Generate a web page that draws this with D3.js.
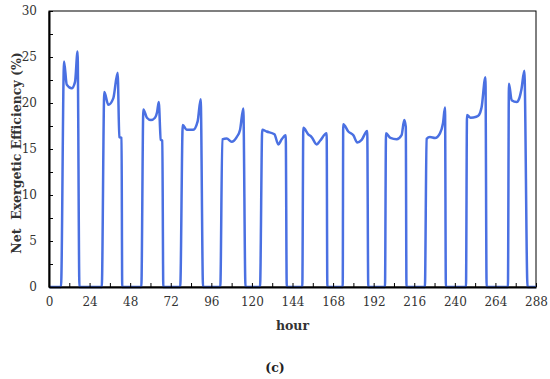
<!DOCTYPE html>
<html>
<head>
<meta charset="utf-8">
<script src="https://cdn.jsdelivr.net/npm/d3@7"></script>
<style>
  body { margin: 0; background: #fff; }
</style>
</head>
<body>
<svg width="550" height="379"></svg>
<script>
// vertices of the efficiency curve (hour, %)
var hours = [0,
  7.1, 8.9, 10.5, 13.4, 15.4, 16.9, 18.0,
  31.2, 32.7, 35.1, 38.0, 40.6, 41.6, 42.9, 43.3,
  54.6, 55.8, 57.9, 60.3, 62.7, 63.9, 64.9, 66.1, 67.0, 67.6,
  77.6, 79.1, 81.4, 85.3, 87.9, 89.7, 91.1,
  101.3, 102.5, 105.1, 108.0, 111.0, 113.0, 114.9, 116.2,
  124.8, 126.1, 128.7, 133.3, 135.6, 137.6, 140.0, 140.6,
  149.8, 150.4, 153.3, 155.3, 158.3, 160.3, 164.2, 164.6,
  173.7, 174.0, 177.0, 180.0, 182.3, 184.9, 188.2, 188.8,
  198.7, 199.3, 201.9, 205.6, 208.5, 210.1, 211.0, 211.4,
  222.3, 223.3, 225.3, 228.3, 231.2, 233.0, 234.2, 234.7,
  246.6, 247.2, 249.3, 252.7, 254.3, 255.8, 258.1, 258.8,
  271.4, 272.0, 273.6, 276.6, 277.9, 279.4, 281.1, 283.0,
  288];
var efficiency = [0,
  0, 24.5, 22.0, 21.6, 22.3, 25.6, 0,
  0, 21.2, 19.8, 20.5, 23.3, 16.3, 16.2, 0,
  0, 19.3, 18.4, 18.15, 18.4, 19.0, 20.1, 16.0, 15.9, 0,
  0, 17.6, 17.1, 17.1, 18.0, 20.4, 0,
  0, 16.05, 16.15, 15.8, 16.3, 17.1, 19.4, 0,
  0, 17.1, 16.9, 16.6, 15.5, 16.05, 16.5, 0,
  0, 17.3, 16.6, 16.3, 15.5, 15.9, 16.7, 0,
  0, 17.7, 16.9, 16.5, 15.7, 16.0, 16.96, 0,
  0, 16.7, 16.2, 16.05, 16.5, 18.15, 17.4, 0,
  0, 16.1, 16.3, 16.2, 16.7, 17.8, 19.5, 0,
  0, 18.7, 18.4, 18.5, 18.7, 19.5, 22.8, 0,
  0, 22.1, 20.3, 20.1, 20.4, 21.5, 23.5, 0,
  0];

var xTicks = [0, 24, 48, 72, 96, 120, 144, 168, 192, 216, 240, 264, 288];
var yTicks = [0, 5, 10, 15, 20, 25, 30];
var serif = "'DejaVu Serif', serif";

var svg = d3.select("svg"),
    margin = {top: 11, right: 14, bottom: 92, left: 49},
    width = +svg.attr("width") - margin.left - margin.right,
    height = +svg.attr("height") - margin.top - margin.bottom,
    g = svg.append("g").attr("transform", "translate(" + margin.left + "," + margin.top + ")");

var x = d3.scaleLinear().domain([0, 288]).range([0, width]);
var y = d3.scaleLinear().domain([0, 30]).range([height, 0]);

g.append("rect")
    .attr("width", width).attr("height", height)
    .attr("fill", "none").attr("stroke", "#000").attr("stroke-width", 1);

var line = d3.line()
    .x(function(d) { return x(d[0]); })
    .y(function(d) { return y(d[1]); })
    .curve(d3.curveMonotoneX);

var pts = hours.map(function(h, i) { return [h, efficiency[i]]; });

g.append("path")
    .datum(pts)
    .attr("d", line)
    .attr("fill", "none")
    .attr("stroke", "#4a70e2")
    .attr("stroke-width", 2.5)
    .attr("stroke-linejoin", "round");

// minor ticks
g.append("g")
    .attr("transform", "translate(0," + height + ")")
    .call(d3.axisBottom(x).tickValues(d3.range(12, 288, 24)).tickSize(-4).tickFormat(""))
    .call(function(s) { s.select(".domain").remove(); });
g.append("g")
    .call(d3.axisLeft(y).tickValues(d3.range(2.5, 30, 5)).tickSize(-4).tickFormat(""))
    .call(function(s) { s.select(".domain").remove(); });

var xAxis = g.append("g")
    .attr("transform", "translate(0," + height + ")")
    .call(d3.axisBottom(x).tickValues(xTicks).tickSizeInner(-4).tickSizeOuter(0).tickPadding(10));
var yAxis = g.append("g")
    .call(d3.axisLeft(y).tickValues(yTicks).tickSizeInner(-4).tickSizeOuter(0).tickPadding(12));

[xAxis, yAxis].forEach(function(a) {
  a.attr("font-family", serif);
  a.select(".domain").attr("stroke-width", 2);
  a.selectAll("text")
      .attr("font-size", 12)
      .attr("fill", "#333");
});

svg.append("text")
    .attr("x", margin.left + width / 2)
    .attr("y", 330)
    .attr("text-anchor", "middle")
    .attr("font-family", serif)
    .attr("font-weight", "bold")
    .attr("font-size", 12.5)
    .attr("fill", "#333")
    .text("hour");

svg.append("text")
    .attr("transform", "translate(21," + (margin.top + height / 2 + 4) + ") rotate(-90)")
    .attr("text-anchor", "middle")
    .attr("font-family", serif)
    .attr("font-weight", "bold")
    .attr("font-size", 12.5)
    .attr("fill", "#333")
    .attr("xml:space", "preserve")
    .text("Net  Exergetic Efficiency (%)");

svg.append("text")
    .attr("x", 275)
    .attr("y", 372)
    .attr("text-anchor", "middle")
    .attr("font-family", serif)
    .attr("font-weight", "bold")
    .attr("font-size", 12.5)
    .attr("fill", "#222")
    .text("(c)");
</script>
</body>
</html>
